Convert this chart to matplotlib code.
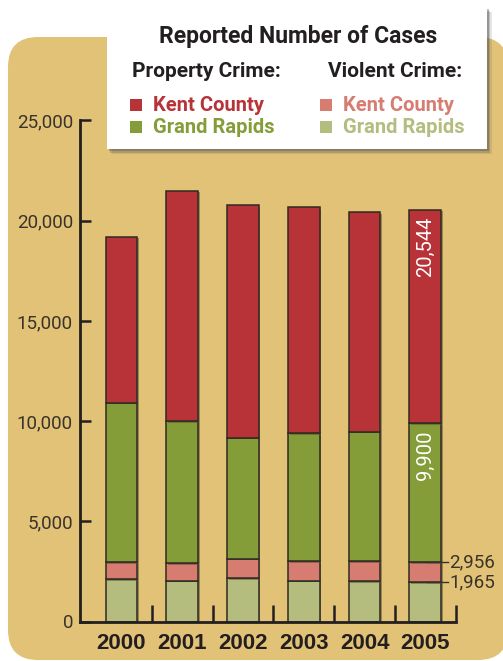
"""Reported number of cases: stacked bars, Kent County vs Grand Rapids."""

import matplotlib

matplotlib.use("Agg")
import matplotlib.pyplot as plt
import matplotlib.patheffects as pe
import numpy as np
from matplotlib.patches import FancyBboxPatch, Rectangle

# Values (levels at the top of each coloured segment)
years = ["2000", "2001", "2002", "2003", "2004", "2005"]
gr_violent = [2106, 2036, 2156, 2036, 2006, 1965]
kent_violent = [2954, 2904, 3134, 3019, 3004, 2956]
gr_property = [10918, 9990, 9172, 9391, 9471, 9900]
kent_property = [19201, 21497, 20768, 20669, 20419, 20544]
y_ticks = [0, 5000, 10000, 15000, 20000, 25000]

TAN = "#E2C276"
RED = "#B73337"
GREEN = "#859D38"
PINK = "#D77C71"
LIGHT_GREEN = "#B4BC7E"
INK = "#231F20"
NUM = "#3a332b"
NUM_FONT = ["Roboto", "DejaVu Sans"]

W, H = 503, 661
fig = plt.figure(figsize=(W / 100, H / 100), dpi=100)
fig.patch.set_facecolor("white")

# background panel, in pixel coordinates
bg = fig.add_axes([0, 0, 1, 1], zorder=0)
bg.set_xlim(0, W)
bg.set_ylim(H, 0)
bg.axis("off")
bg.add_patch(
    FancyBboxPatch(
        (8, 37), 500, 623,
        boxstyle="round,pad=0,rounding_size=30",
        facecolor=TAN, edgecolor="none",
    )
)

# main chart
ax = fig.add_axes([80 / W, 39.5 / H, 375.7 / W, 501 / H], zorder=1)
ax.patch.set_alpha(0)
x = np.arange(len(years))
levels = [gr_violent, kent_violent, gr_property, kent_property]
colors = [LIGHT_GREEN, PINK, GREEN, RED]
bottom = np.zeros(len(years))
shadow = [pe.SimplePatchShadow(offset=(1.2, -1.2), shadow_rgbFace="#5a4a30", alpha=0.5), pe.Normal()]
for lev, col in zip(levels, colors):
    lev = np.array(lev, dtype=float)
    ax.bar(
        x, lev - bottom, bottom=bottom, width=0.52, color=col,
        edgecolor="#2e2a22", linewidth=1.1, path_effects=shadow,
    )
    bottom = lev

ax.set_xlim(-0.68, 5.5)
ax.set_ylim(0, 25000)
ax.set_yticks(y_ticks)
ax.set_yticklabels([f"{v:,}" for v in y_ticks])
ax.set_xticks(x)
ax.set_xticklabels(years)
ax.set_xticks(x + 0.5, minor=True)
for side in ["top", "right"]:
    ax.spines[side].set_visible(False)
for side in ["left", "bottom"]:
    ax.spines[side].set_linewidth(2)
    ax.spines[side].set_color(INK)
ax.tick_params(axis="y", direction="in", length=8, width=1.8, color=INK,
               pad=5, labelsize=13.5, labelcolor=NUM)
ax.tick_params(axis="x", which="major", length=0, pad=8, labelsize=16,
               labelcolor=INK)
ax.tick_params(axis="x", which="minor", direction="in", length=12,
               width=1.8, color=INK)
for lab in ax.get_yticklabels():
    lab.set_fontfamily(NUM_FONT)
for lab in ax.get_xticklabels():
    lab.set_fontfamily(["Liberation Sans", "DejaVu Sans"])
    lab.set_fontweight("bold")

# 2005 value labels
last = len(years) - 1
for val in (kent_property[last], gr_property[last]):
    ax.annotate(
        f"{val:,}", (x[last], val), xytext=(0, -5), textcoords="offset points",
        rotation=90, ha="center", va="top", color="white", fontsize=14.5,
        family=NUM_FONT,
    )
for val in (kent_violent[last], gr_violent[last]):
    ax.plot([x[last] + 0.03, x[last] + 0.375], [val, val], color="#333333",
            linewidth=1, clip_on=False, zorder=5)
    ax.text(x[last] + 0.4, val, f"{val:,}", ha="left", va="center",
            fontsize=13.5, color=NUM, family=NUM_FONT, clip_on=False)

# legend box on top
ov = fig.add_axes([0, 0, 1, 1], zorder=3)
ov.set_xlim(0, W)
ov.set_ylim(H, 0)
ov.axis("off")
for i, a in enumerate([0.15, 0.25, 0.4]):
    d = 5 - i * 1.5
    ov.add_patch(Rectangle((107 + d, 7 + d), 380, 142, facecolor="#555555",
                           edgecolor="none", alpha=a))
ov.add_patch(Rectangle((107, 7), 380, 142, facecolor="white", edgecolor="none"))

bold = dict(family=["Roboto", "DejaVu Sans"], fontweight="bold", va="baseline")
ov.text(298, 43, "Reported Number of Cases", ha="center", fontsize=16.5,
        color=INK, **bold)
ov.text(132, 77, "Property Crime:", ha="left", fontsize=15, color=INK, **bold)
ov.text(328, 77, "Violent Crime:", ha="left", fontsize=15, color=INK, **bold)

legend_rows = [
    (130, 111, RED, "Kent County"),
    (130, 133, GREEN, "Grand Rapids"),
    (320, 111, PINK, "Kent County"),
    (320, 133, LIGHT_GREEN, "Grand Rapids"),
]
for sx, base, col, label in legend_rows:
    ov.add_patch(Rectangle((sx, base - 12), 12, 12, facecolor=col, edgecolor="none"))
    ov.text(sx + 23, base, label, ha="left", fontsize=14.5, color=col, **bold)

fig.savefig("out.png", dpi=100)
